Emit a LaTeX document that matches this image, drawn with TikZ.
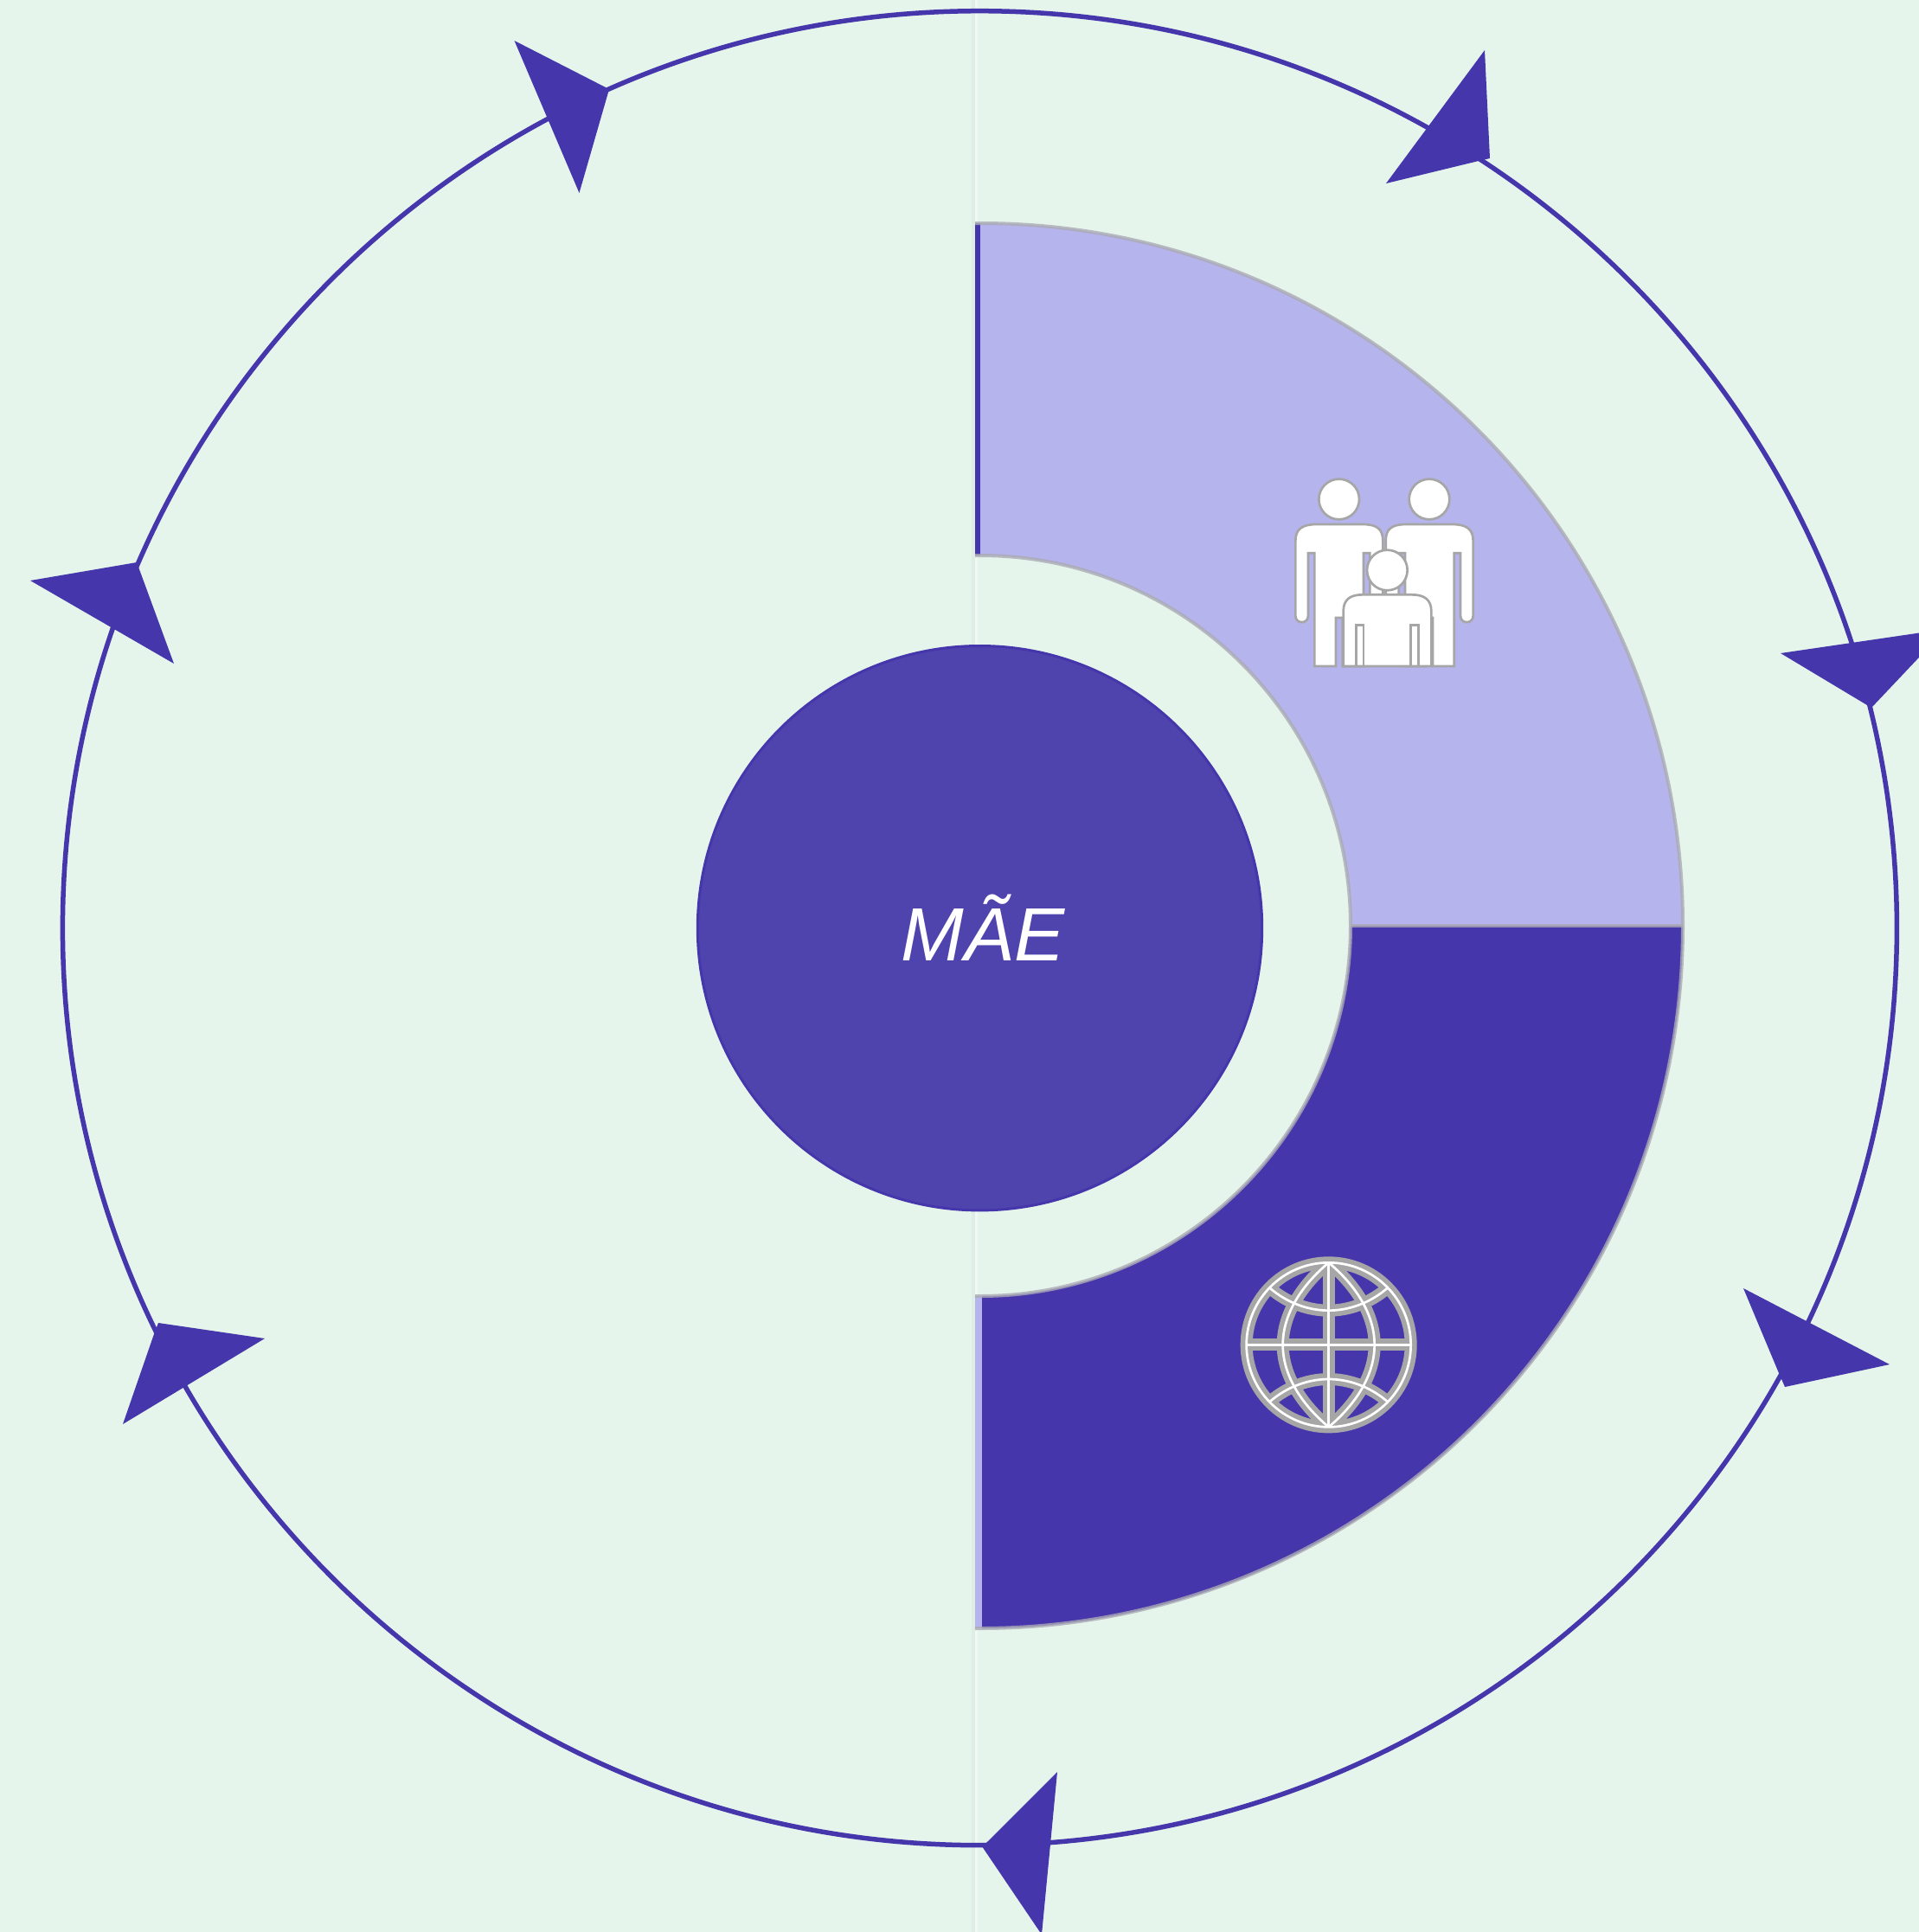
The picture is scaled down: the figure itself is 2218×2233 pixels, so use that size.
\documentclass[tikz,border=0pt]{standalone}
\usepackage{fontspec}
\setmainfont{Liberation Sans}
\definecolor{bgc}{HTML}{E5F5EC}
\definecolor{darkp}{HTML}{4636AB}
\definecolor{midp}{HTML}{4F43AE}
\definecolor{lightp}{HTML}{B5B4ED}
\definecolor{iconc}{HTML}{A6A6A6}
\definecolor{edgec}{HTML}{ABABB4}
\tikzset{
  ringline/.style={draw=darkp,line width=0.055cm},
  arrowhead/.style={fill=darkp,draw=none},
  sectoredge/.style={draw=edgec,draw opacity=0.8,line width=0.04cm,line join=round},
  iconpart/.style={draw=iconc,fill=white,line width=0.027cm,line join=miter},
  globegray/.style={draw=iconc,line width=0.14cm,line join=round},
  globewhite/.style={draw=white,line width=0.027cm,line join=round},
}
\begin{document}
\begin{tikzpicture}[x=0.01cm,y=-0.01cm]
\useasboundingbox (0,0) rectangle (2218,2233);
\begin{scope}
\clip (0,0) rectangle (2218,2233);
\fill[bgc] (0,0) rectangle (2218,2233);
% faint vertical seam
\fill[black!3!bgc] (1123,0) rectangle (1127,2233);
\fill[white!35!bgc] (1127,0) rectangle (1130,2233);
% outer ring
\draw[ringline] (1132.4,1072.7) circle[radius=1060];
% arrowheads
\fill[arrowhead] (594.5,47) -- (700,101) -- (703.5,105) -- (669.5,223) -- cycle;
\fill[arrowhead] (1716,58) -- (1722,183) -- (1709,186) -- (1602,212) -- cycle;
\fill[arrowhead] (2058,755) -- (2249,727) -- (2163,818) -- (2158,815) -- cycle;
\fill[arrowhead] (2015,1489) -- (2184,1577) -- (2063,1603) -- (2056,1587) -- cycle;
\fill[arrowhead] (1222,2048) -- (1204,2236) -- (1135,2134) -- (1142,2128) -- cycle;
\fill[arrowhead] (183,1529) -- (306,1547) -- (142,1646) -- (179,1539) -- cycle;
\fill[arrowhead] (35,671) -- (158,650) -- (161,658) -- (201,767) -- cycle;
% sector side strips
\fill[darkp] (1127,258) rectangle (1134,642);
\fill[lightp] (1127,1498) rectangle (1135,1882);
% sectors
\fill[lightp] (1133,258) .. controls (1581.5,258) and (1945,621.5) .. (1945,1070)
  -- (1561,1070) .. controls (1561,833.6) and (1369.4,642) .. (1133,642) -- cycle;
\fill[darkp] (1135,1882) .. controls (1581.5,1882) and (1945,1518.5) .. (1945,1070)
  -- (1561,1070) .. controls (1561,1306.4) and (1369.4,1498) .. (1135,1498) -- cycle;
\draw[sectoredge] (1127,258) -- (1133,258) .. controls (1581.5,258) and (1945,621.5) .. (1945,1070)
  .. controls (1945,1518.5) and (1581.5,1882) .. (1133,1882) -- (1127,1882);
\draw[sectoredge] (1127,642) -- (1133,642) .. controls (1369.4,642) and (1561,833.6) .. (1561,1070)
  .. controls (1561,1306.4) and (1369.4,1498) .. (1133,1498) -- (1127,1498);
\draw[sectoredge] (1561,1070) -- (1945,1070);
% centre
\node[circle,fill=midp,draw=darkp,line width=0.03cm,minimum size=6.52cm,inner sep=0pt] (centre) at (1132.5,1072.7) {};
\node[anchor=base,text=white,font=\fontsize{24.8}{28}\selectfont\itshape,inner sep=0pt] (mae) at (1136,1110) {MÃE};
% people icon
\begin{scope}[shift={(1470,530)},xscale=1/3,yscale=1/3]
\draw[iconpart] (233,141) circle[radius=70];
\draw[iconpart] (546,141) circle[radius=70];
\draw[iconpart] (148,720) -- (148,328) -- (126,328) -- (126,545)
  .. controls (126,575) and (82,575) .. (82,545) -- (82,285)
  .. controls (82,245) and (105,228) .. (155,228) -- (315,228)
  .. controls (365,228) and (385,245) .. (385,285) -- (385,545)
  -- (340,545) -- (340,328) -- (318,328) -- (318,720) -- (245,720) -- (245,552) -- (222,552) -- (222,720) -- cycle;
\draw[iconpart] (632,720) -- (632,328) -- (654,328) -- (654,545)
  .. controls (654,575) and (698,575) .. (698,545) -- (698,285)
  .. controls (698,245) and (675,228) .. (625,228) -- (465,228)
  .. controls (415,228) and (395,245) .. (395,285) -- (395,545)
  -- (440,545) -- (440,328) -- (462,328) -- (462,720) -- (535,720) -- (535,552) -- (558,552) -- (558,720) -- cycle;
\draw[iconpart] (248,720) -- (248,530) .. controls (248,490) and (270,472) .. (315,472) -- (485,472)
  .. controls (530,472) and (553,490) .. (553,530) -- (553,720) -- cycle;
\draw[iconpart,fill=none] (293,720) -- (293,577) -- (318,577) -- (318,720);
\draw[iconpart,fill=none] (482,720) -- (482,577) -- (508,577) -- (508,720);
\draw[iconpart] (400,387) circle[radius=70];
\end{scope}
% globe icon
\begin{scope}[shift={(1410,1430)},xscale=1/3,yscale=1/3]
\foreach \st in {globegray,globewhite}{
  \draw[\st] (377,373) circle[radius=285];
  \draw[\st] (377,88) .. controls (285,165) and (218,265) .. (218,373)
     .. controls (218,481) and (285,581) .. (377,658);
  \draw[\st] (377,88) .. controls (469,165) and (536,265) .. (536,373)
     .. controls (536,481) and (469,581) .. (377,658);
  \draw[\st] (377,88) -- (377,658);
  \draw[\st] (92,373) -- (662,373);
  \draw[\st] (172,175) .. controls (235,230) and (310,254) .. (377,254)
     .. controls (444,254) and (519,230) .. (582,175);
  \draw[\st] (172,571) .. controls (235,516) and (310,492) .. (377,492)
     .. controls (444,492) and (519,516) .. (582,571);
}
\end{scope}
\end{scope}
\end{tikzpicture}
\end{document}
